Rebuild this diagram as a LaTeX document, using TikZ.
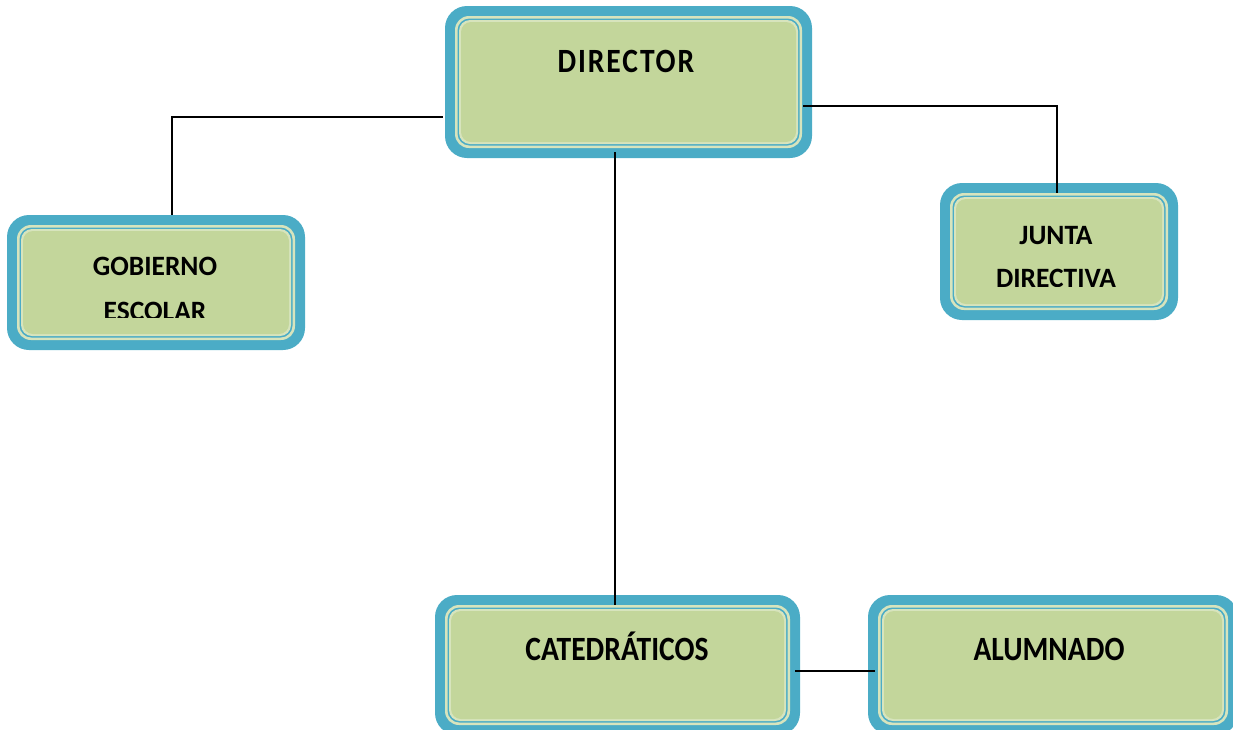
\documentclass[tikz,border=0pt]{standalone}
\usepackage{fontspec}
\newfontfamily\labL{Carlito}[FakeStretch=0.87]
\newfontfamily\labD{Carlito}[FakeStretch=0.87,LetterSpace=5.5]
\newfontfamily\labS{Carlito}[FakeStretch=0.98]
\usetikzlibrary{calc}
\definecolor{bandblue}{HTML}{4BACC6}
\definecolor{boxgreen}{HTML}{C3D69B}
\definecolor{linelight}{HTML}{D7E4BD}
\tikzset{
  orgbox/.style={rectangle, rounded corners=22pt, fill=bandblue, draw=none, inner sep=0pt,
    path picture={
      \fill[linelight, rounded corners=14pt] ($(path picture bounding box.south west)+(10pt,10pt)$) rectangle ($(path picture bounding box.north east)+(-10pt,-10pt)$);
      \fill[bandblue, rounded corners=12pt] ($(path picture bounding box.south west)+(12.5pt,12.5pt)$) rectangle ($(path picture bounding box.north east)+(-12.5pt,-12.5pt)$);
      \fill[linelight, rounded corners=11pt] ($(path picture bounding box.south west)+(14pt,14pt)$) rectangle ($(path picture bounding box.north east)+(-14pt,-14pt)$);
      \fill[boxgreen, rounded corners=10pt] ($(path picture bounding box.south west)+(16pt,16pt)$) rectangle ($(path picture bounding box.north east)+(-16pt,-16pt)$);
    }},
  bigtext/.style={anchor=base, inner sep=0pt, font=\labL\bfseries\fontsize{34}{42}\selectfont, text=black},
  dirtext/.style={anchor=base, inner sep=0pt, font=\labD\bfseries\fontsize{34}{42}\selectfont, text=black},
  smalltext/.style={anchor=base, inner sep=0pt, font=\labS\bfseries\fontsize{28}{36}\selectfont, text=black},
  conn/.style={draw=black, line width=1.5pt}
}
\begin{document}
\begin{tikzpicture}[x=1pt,y=-1pt]
\useasboundingbox (0,0) rectangle (1233,729);
\clip (0,0) rectangle (1233,729);
% boxes
\node[orgbox, minimum width=367pt, minimum height=152pt] (dir) at (628.5,82) {};
\node[orgbox, minimum width=298pt, minimum height=135pt] (gob) at (156,282.5) {};
\node[orgbox, minimum width=238pt, minimum height=137pt] (jun) at (1059,251.5) {};
\node[orgbox, minimum width=365pt, minimum height=140pt] (cat) at (617.5,665) {};
\node[orgbox, minimum width=370pt, minimum height=140pt] (alu) at (1053,665) {};
% connectors
\draw[conn] ($(dir.west)+(-2,35)$) -| ($(gob.north)+(16,0)$);
\draw[conn] ($(dir.east)+(-9,24)$) -| ($(jun.north)+(-2,10)$);
\draw[conn] ($(dir.south)+(-13.5,-6)$) -- ($(cat.north)+(-2.5,10)$);
\draw[conn] ($(cat.east)+(-5,6)$) -- ($(alu.west)+(7,6)$);
% texts
\node[dirtext] (tdir) at (626,72) {DIRECTOR};
\node[smalltext] (tgob1) at (155,275) {GOBIERNO};
\begin{scope}
\clip (0,290) rectangle (320,317);
\node[smalltext] (tgob2) at (155,320) {ESCOLAR};
\end{scope}
\node[smalltext] (tjun1) at (1056,244) {JUNTA};
\begin{scope}
\clip (930,260) rectangle (1190,286);
\node[smalltext] (tjun2) at (1056,287) {DIRECTIVA};
\end{scope}
\node[bigtext] (tcat) at (617,660) {CATEDRÁTICOS};
\node[bigtext] (talu) at (1049,660) {ALUMNADO};
\end{tikzpicture}
\end{document}
